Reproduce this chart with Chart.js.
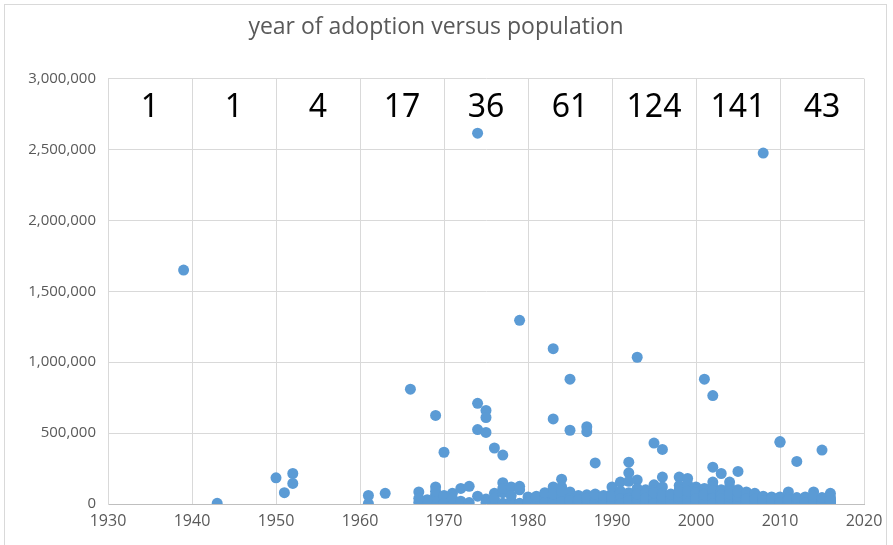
<!DOCTYPE html>
<html>
<head>
<meta charset="utf-8">
<script src="https://cdn.jsdelivr.net/npm/chart.js@4.4.1/dist/chart.umd.min.js"></script>
<style>
  html, body { margin: 0; padding: 0; background: #fff; }
  canvas { display: block; }
</style>
</head>
<body>
<canvas id="grafico" width="893" height="545"></canvas>
<script>
// decades along the x axis and how many adoptions fall in each one
const decades = [1930, 1940, 1950, 1960, 1970, 1980, 1990, 2000, 2010];
const decadeCounts = [1, 1, 4, 17, 36, 61, 124, 141, 43];

const yTicks = [0, 500000, 1000000, 1500000, 2000000, 2500000, 3000000];

// year of adoption / population (thousands), one pair of lists per decade
const years1930s = [1939];
const pop1930s = [1650];

const years1940s = [1943];
const pop1940s = [5];

const years1950s = [1950, 1951, 1952, 1952];
const pop1950s = [185, 80, 215, 145];

const years1960s = [1961, 1961, 1963, 1966, 1967, 1967, 1968, 1968, 1969, 1969, 1969, 1969, 1969, 1969, 1968, 1967, 1969];
const pop1960s = [60, 3, 75, 810, 85, 12, 4, 18, 625, 120, 65, 35, 8, 50, 30, 40, 90];

const years1970s = [1970, 1970, 1970, 1970, 1971, 1971, 1971, 1972, 1972, 1973, 1973,
  1974, 1974, 1974, 1974, 1975, 1975, 1975, 1975, 1975, 1976, 1976, 1976, 1976,
  1977, 1977, 1977, 1977, 1977, 1978, 1978, 1979, 1979, 1979, 1979, 1978];
const pop1970s = [365, 30, 60, 5, 75, 5, 40, 110, 20, 125, 10,
  2615, 710, 525, 55, 660, 610, 505, 35, 10, 395, 75, 2, 40,
  345, 150, 80, 5, 110, 120, 20, 1295, 125, 5, 100, 60];

const years1980s = [1980, 1980, 1980, 1980, 1981, 1981, 1981, 1981, 1981,
  1982, 1982, 1982, 1982, 1982, 1982, 1983, 1983, 1983, 1983, 1983, 1983, 1983,
  1984, 1984, 1984, 1984, 1984, 1984, 1984, 1985, 1985, 1985, 1985, 1985, 1985,
  1986, 1986, 1986, 1986, 1986, 1986, 1987, 1987, 1987, 1987, 1987, 1987, 1987,
  1988, 1988, 1988, 1988, 1988, 1988, 1989, 1989, 1989, 1989, 1989, 1989, 1989];
const pop1980s = [50, 5, 20, 10, 5, 25, 10, 40, 55,
  60, 5, 20, 35, 10, 80, 1095, 600, 120, 40, 5, 15, 70,
  175, 120, 5, 30, 60, 15, 90, 880, 520, 85, 10, 40, 25,
  5, 20, 45, 10, 60, 30, 545, 510, 65, 15, 5, 30, 40,
  290, 30, 5, 15, 50, 70, 30, 5, 15, 45, 20, 10, 60];

const years1990s = [
  1990, 1990, 1990, 1990, 1990, 1990, 1990, 1990, 1990, 1990, 1990, 1990,
  1991, 1991, 1991, 1991, 1991, 1991, 1991, 1991, 1991, 1991, 1991, 1991,
  1992, 1992, 1992, 1992, 1992, 1992, 1992, 1992, 1992, 1992, 1992, 1992,
  1993, 1993, 1993, 1993, 1993, 1993, 1993, 1993, 1993, 1993, 1993, 1993, 1993,
  1994, 1994, 1994, 1994, 1994, 1994, 1994, 1994, 1994, 1994, 1994,
  1995, 1995, 1995, 1995, 1995, 1995, 1995, 1995, 1995, 1995, 1995, 1995, 1995,
  1996, 1996, 1996, 1996, 1996, 1996, 1996, 1996, 1996, 1996, 1996, 1996, 1996,
  1997, 1997, 1997, 1997, 1997, 1997, 1997, 1997, 1997, 1997, 1997,
  1998, 1998, 1998, 1998, 1998, 1998, 1998, 1998, 1998, 1998, 1998, 1998, 1998, 1998,
  1999, 1999, 1999, 1999, 1999, 1999, 1999, 1999, 1999, 1999, 1999, 1999, 1999];
const pop1990s = [
  120, 5, 15, 30, 45, 60, 75, 20, 10, 40, 3, 55,
  155, 90, 5, 15, 30, 45, 60, 75, 25, 10, 35, 2,
  295, 220, 160, 5, 20, 35, 50, 65, 80, 10, 40, 25,
  1035, 170, 110, 5, 15, 30, 45, 60, 20, 8, 35, 50, 70,
  100, 5, 15, 30, 45, 60, 75, 20, 10, 3, 40,
  430, 135, 95, 5, 20, 35, 50, 65, 10, 25, 45, 3, 80,
  385, 190, 120, 5, 15, 30, 45, 60, 75, 20, 10, 40, 55,
  5, 15, 30, 45, 60, 20, 10, 40, 3, 25, 70,
  190, 130, 100, 5, 15, 30, 45, 60, 75, 20, 10, 40, 55, 85,
  180, 140, 5, 15, 30, 45, 60, 75, 20, 10, 40, 90, 3];

const years2000s = [
  2000, 2000, 2000, 2000, 2000, 2000, 2000, 2000, 2000, 2000, 2000, 2000, 2000, 2000, 2000, 2000, 2000,
  2001, 2001, 2001, 2001, 2001, 2001, 2001, 2001, 2001, 2001, 2001, 2001, 2001, 2001, 2001, 2001, 2001,
  2002, 2002, 2002, 2002, 2002, 2002, 2002, 2002, 2002, 2002, 2002, 2002, 2002, 2002, 2002,
  2003, 2003, 2003, 2003, 2003, 2003, 2003, 2003, 2003, 2003, 2003, 2003, 2003, 2003, 2003, 2003,
  2004, 2004, 2004, 2004, 2004, 2004, 2004, 2004, 2004, 2004, 2004, 2004, 2004, 2004, 2004,
  2005, 2005, 2005, 2005, 2005, 2005, 2005, 2005, 2005, 2005, 2005, 2005, 2005, 2005,
  2006, 2006, 2006, 2006, 2006, 2006, 2006, 2006, 2006, 2006, 2006, 2006, 2006,
  2007, 2007, 2007, 2007, 2007, 2007, 2007, 2007, 2007, 2007, 2007, 2007, 2007,
  2008, 2008, 2008, 2008, 2008, 2008, 2008, 2008, 2008, 2008, 2008,
  2009, 2009, 2009, 2009, 2009, 2009, 2009, 2009, 2009, 2009];
const pop2000s = [
  120, 100, 5, 15, 30, 45, 60, 75, 90, 20, 10, 40, 55, 3, 65, 80, 35,
  880, 110, 5, 15, 30, 45, 60, 75, 90, 20, 10, 40, 3, 55, 70, 25, 65,
  765, 260, 155, 125, 5, 15, 30, 45, 60, 75, 95, 20, 10, 40, 3,
  215, 100, 5, 15, 30, 45, 60, 75, 90, 20, 10, 40, 3, 55, 65, 35,
  155, 120, 5, 15, 30, 45, 60, 75, 90, 20, 10, 40, 3, 50, 70,
  230, 100, 5, 15, 30, 45, 60, 75, 20, 10, 40, 3, 55, 85,
  85, 5, 15, 30, 45, 60, 70, 20, 10, 40, 3, 55, 35,
  75, 5, 15, 30, 45, 60, 20, 10, 40, 3, 55, 68, 35,
  2475, 5, 15, 30, 45, 20, 10, 40, 3, 55, 25,
  50, 5, 15, 30, 45, 20, 10, 40, 3, 35];

const years2010s = [2010, 2010, 2010, 2010, 2010, 2010, 2010,
  2011, 2011, 2011, 2011, 2011, 2011, 2012, 2012, 2012, 2012, 2012, 2012,
  2013, 2013, 2013, 2013, 2013, 2014, 2014, 2014, 2014, 2014, 2014,
  2015, 2015, 2015, 2015, 2015, 2015, 2016, 2016, 2016, 2016, 2016, 2016, 2016];
const pop2010s = [440, 435, 50, 5, 20, 35, 10,
  85, 5, 20, 40, 10, 30, 300, 5, 20, 35, 10, 45,
  50, 5, 20, 35, 10, 85, 5, 20, 40, 10, 55,
  380, 5, 20, 35, 10, 45, 75, 2, 20, 35, 10, 50, 25];

const countLabelLevel = 2790000;

const allYears = [].concat(years1930s, years1940s, years1950s, years1960s, years1970s,
  years1980s, years1990s, years2000s, years2010s);
const allPops = [].concat(pop1930s, pop1940s, pop1950s, pop1960s, pop1970s,
  pop1980s, pop1990s, pop2000s, pop2010s);

const pontos = allYears.map((ano, i) => ({ x: ano, y: allPops[i] * 1000 }));

const contagemPlugin = {
  id: 'contagem',
  beforeDraw(chart) {
    const ctx = chart.ctx;
    ctx.save();
    ctx.fillStyle = '#ffffff';
    ctx.fillRect(0, 0, chart.width, chart.height);
    ctx.strokeStyle = '#d9d9d9';
    ctx.lineWidth = 1;
    ctx.strokeRect(4.5, 4.5, 882, 580);
    ctx.restore();
  },
  afterDatasetsDraw(chart) {
    const ctx = chart.ctx;
    const x = chart.scales.x;
    const y = chart.scales.y;
    ctx.save();
    ctx.font = '32px "Noto Sans"';
    ctx.fillStyle = '#000000';
    ctx.textAlign = 'center';
    ctx.textBaseline = 'middle';
    decades.forEach((d, i) => {
      ctx.fillText(String(decadeCounts[i]), x.getPixelForValue(d + 5), y.getPixelForValue(countLabelLevel));
    });
    ctx.restore();
  }
};

const ctx = document.getElementById('grafico').getContext('2d');
new Chart(ctx, {
  type: 'scatter',
  data: {
    datasets: [{
      label: 'population',
      data: pontos,
      backgroundColor: '#5B9BD5',
      borderColor: '#5B9BD5',
      borderWidth: 0,
      pointRadius: 5.5,
      pointHoverRadius: 5.5
    }]
  },
  options: {
    responsive: false,
    animation: false,
    events: [],
    layout: { padding: { left: 8, right: 29, top: 8, bottom: 6 } },
    plugins: {
      legend: { display: false },
      tooltip: { enabled: false },
      title: {
        display: true,
        text: 'year of adoption versus population',
        color: '#595959',
        font: { family: '"Open Sans"', size: 23, weight: 'normal' },
        padding: { top: 6, bottom: 37 }
      }
    },
    scales: {
      x: {
        type: 'linear',
        min: 1930,
        max: 2020,
        afterBuildTicks: s => { s.ticks = decades.concat([2020]).map(v => ({ value: v })); },
        afterFit: s => { s.height = 35; },
        ticks: {
          color: '#595959',
          font: { family: '"Open Sans"', size: 16 },
          padding: 8,
          callback: v => String(v)
        },
        grid: { color: '#d9d9d9', drawTicks: false },
        border: { color: '#bfbfbf' }
      },
      y: {
        min: 0,
        max: 3000000,
        afterBuildTicks: s => { s.ticks = yTicks.map(v => ({ value: v })); },
        afterFit: s => { s.width = 100; },
        ticks: {
          color: '#595959',
          font: { family: '"Open Sans"', size: 15 },
          padding: 12,
          callback: v => v.toLocaleString('en-US')
        },
        grid: { color: '#d9d9d9', drawTicks: false },
        border: { color: '#d9d9d9' }
      }
    }
  },
  plugins: [contagemPlugin]
});
</script>
</body>
</html>
